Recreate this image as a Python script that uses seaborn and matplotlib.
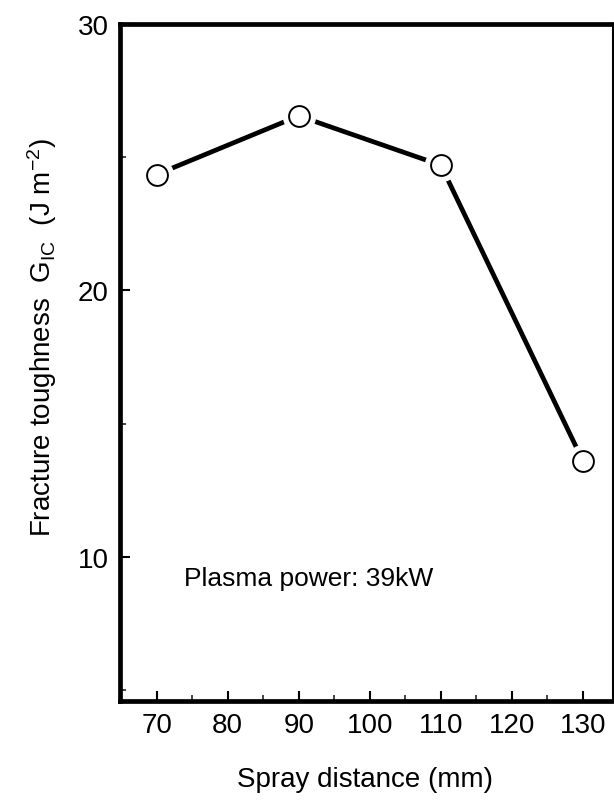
import matplotlib
matplotlib.use("Agg")
import matplotlib.pyplot as plt
import seaborn as sns
import pandas as pd
from matplotlib.ticker import MultipleLocator

spray_distance = [70, 90, 110, 130]
toughness = [24.35, 26.55, 24.7, 13.6]
x_ticks = [70, 80, 90, 100, 110, 120, 130]
y_ticks = [10, 20, 30]

df = pd.DataFrame({"x": spray_distance, "y": toughness})

sns.set_style("ticks")
plt.rcParams["font.family"] = ["Liberation Sans", "DejaVu Sans"]
plt.rcParams["mathtext.fontset"] = "custom"
plt.rcParams["mathtext.rm"] = "Liberation Sans"
plt.rcParams["mathtext.it"] = "Liberation Sans"
plt.rcParams["text.color"] = "black"
plt.rcParams["axes.labelcolor"] = "black"

fig = plt.figure(figsize=(6.14, 8.04), dpi=100)
ax = fig.add_axes([0.195, 0.127, 0.803, 0.842])

sns.lineplot(data=df, x="x", y="y", ax=ax, color="black", linewidth=3.4, zorder=2)
ax.plot(df["x"], df["y"], linestyle="none", marker="o", markersize=20,
        markerfacecolor="white", markeredgecolor="white", markeredgewidth=4, zorder=3)
ax.plot(df["x"], df["y"], linestyle="none", marker="o", markersize=15,
        markerfacecolor="white", markeredgecolor="black", markeredgewidth=1.4, zorder=4)

ax.set_xlim(64.8, 134.2)
ax.set_ylim(4.6, 30)
ax.set_xticks(x_ticks)
ax.set_yticks(y_ticks)
ax.xaxis.set_minor_locator(MultipleLocator(5))
ax.yaxis.set_minor_locator(MultipleLocator(5))
ax.tick_params(axis="both", which="major", direction="in", length=7, width=1.5,
               labelsize=20, colors="black", labelcolor="black", pad=8)
ax.tick_params(axis="both", which="minor", direction="in", length=4, width=1.2)

for s in ["left", "top", "bottom"]:
    ax.spines[s].set_linewidth(3.4)
    ax.spines[s].set_color("black")
ax.spines["right"].set_linewidth(1.5)
ax.spines["right"].set_color("black")

ax.set_xlabel("Spray distance (mm)", fontsize=20, color="black")
ax.set_ylabel(r"Fracture toughness  G$_{\rm IC}$  (J m$^{-2}$)", fontsize=20, color="black")
ax.xaxis.set_label_coords(0.497, -0.116)
ax.xaxis.label.set_va("center")
ax.yaxis.set_label_coords(-0.158, 0.538)
ax.yaxis.label.set_va("center")

ax.text(73.8, 9.2, "Plasma power: 39kW", fontsize=19, va="center", ha="left", color="black")

fig.savefig("out.png", dpi=100)
